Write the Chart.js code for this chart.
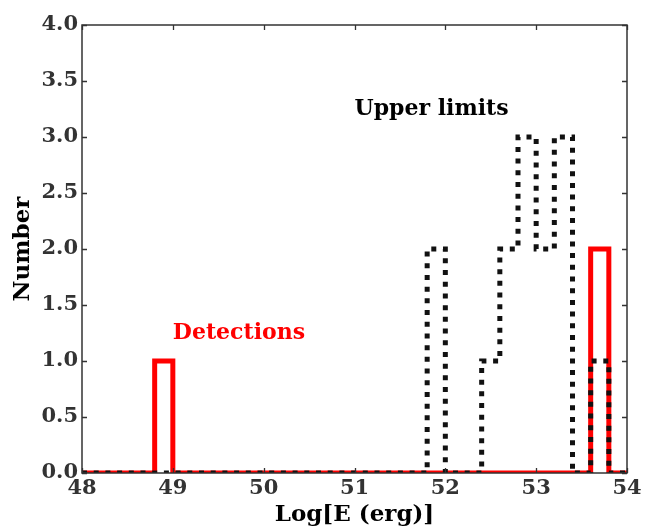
<!DOCTYPE html>
<html>
<head>
<meta charset="utf-8">
<script src="https://cdn.jsdelivr.net/npm/chart.js@4.4.1/dist/chart.umd.min.js"></script>
<style>
html,body{margin:0;padding:0;background:#fff;}
#wrap{width:654px;height:527px;position:relative;}
</style>
</head>
<body>
<div id="wrap"><canvas id="c" width="654" height="527"></canvas></div>
<script>
// Bin left edges (bin width 0.2) for Log[E (erg)]
const binEdges = [48.0,48.2,48.4,48.6,48.8,49.0,49.2,49.4,49.6,49.8,
                  50.0,50.2,50.4,50.6,50.8,51.0,51.2,51.4,51.6,51.8,
                  52.0,52.2,52.4,52.6,52.8,53.0,53.2,53.4,53.6,53.8];
const binEnd = 54.0;
// Counts per bin
const detections = [0,0,0,0,1,0,0,0,0,0,
                    0,0,0,0,0,0,0,0,0,0,
                    0,0,0,0,0,0,0,0,2,0];
const upperLimits = [0,0,0,0,0,0,0,0,0,0,
                     0,0,0,0,0,0,0,0,0,2,
                     0,0,1,2,3,2,3,0,1,0];
const xTicks = [48,49,50,51,52,53,54];
const yTicks = [0,0.5,1,1.5,2,2.5,3,3.5,4];
const annotations = [
  {text:'Upper limits', x:51.0, y:3.2, color:'#000000'},
  {text:'Detections', x:49.0, y:1.2, color:'#ff0000'}
];

function stepPoints(counts){
  const pts = [{x:binEdges[0], y:0}];
  counts.forEach((c,i)=>pts.push({x:binEdges[i], y:c}));
  pts.push({x:binEnd, y:counts[counts.length-1]});
  pts.push({x:binEnd, y:0});
  return pts;
}

const FONT = '"DejaVu Serif", serif';

const framePlugin = {
  id:'frame',
  afterDatasetsDraw(chart){
    const {ctx, chartArea:a, scales:{x, y}} = chart;
    ctx.save();
    ctx.strokeStyle = '#333333';
    ctx.lineWidth = 1.3;
    const L = 5;
    ctx.beginPath();
    xTicks.forEach(v=>{
      const px = Math.round(x.getPixelForValue(v))+0.5;
      ctx.moveTo(px, a.bottom); ctx.lineTo(px, a.bottom-L);
      ctx.moveTo(px, a.top); ctx.lineTo(px, a.top+L);
    });
    yTicks.forEach(v=>{
      const py = Math.round(y.getPixelForValue(v))+0.5;
      ctx.moveTo(a.left, py); ctx.lineTo(a.left+L, py);
      ctx.moveTo(a.right, py); ctx.lineTo(a.right-L, py);
    });
    ctx.stroke();
    ctx.lineWidth = 1.5;
    ctx.strokeRect(a.left, a.top, a.right-a.left, a.bottom-a.top);
    // annotations
    ctx.font = 'bold 22px ' + FONT;
    ctx.textAlign = 'left';
    ctx.textBaseline = 'alphabetic';
    annotations.forEach(t=>{
      ctx.fillStyle = t.color;
      ctx.fillText(t.text, x.getPixelForValue(t.x), y.getPixelForValue(t.y));
    });
    ctx.restore();
  }
};

new Chart(document.getElementById('c'), {
  type:'line',
  data:{
    datasets:[
      {
        label:'Upper limits',
        data: stepPoints(upperLimits),
        stepped:'before',
        borderColor:'#111111',
        borderWidth:5,
        borderDash:[5,6.7],
        borderCapStyle:'butt',
        borderJoinStyle:'miter',
        pointRadius:0,
        fill:false,
        clip:0,
        order:0
      },
      {
        label:'Detections',
        data: stepPoints(detections),
        stepped:'before',
        borderColor:'#ff0000',
        borderWidth:5,
        borderJoinStyle:'miter',
        pointRadius:0,
        fill:false,
        clip:0,
        order:1
      }
    ]
  },
  options:{
    responsive:false,
    animation:false,
    devicePixelRatio:1,
    layout:{padding:{top:25,right:27,left:0,bottom:0}},
    plugins:{legend:{display:false},tooltip:{enabled:false}},
    scales:{
      x:{
        type:'linear', min:48, max:54,
        afterBuildTicks(s){ s.ticks = xTicks.map(v=>({value:v})); },
        afterFit(s){ s.height = 54; },
        grid:{display:false, drawTicks:false},
        border:{display:false},
        ticks:{font:{family:FONT, size:21, weight:'bold'}, color:'#333333', padding:3, maxRotation:0,
               callback:v=>String(v)},
        title:{display:true, text:'Log[E (erg)]', color:'#000000',
               font:{family:FONT, size:23, weight:'bold', lineHeight:1}, padding:{top:0,bottom:0}}
      },
      y:{
        type:'linear', min:0, max:4,
        afterBuildTicks(s){ s.ticks = yTicks.map(v=>({value:v})); },
        afterFit(s){ s.width = 82; },
        grid:{display:false, drawTicks:false},
        border:{display:false},
        ticks:{font:{family:FONT, size:21, weight:'bold'}, color:'#333333', padding:4,
               callback:v=>Number(v).toFixed(1)},
        title:{display:true, text:'Number', color:'#000000',
               font:{family:FONT, size:23, weight:'bold', lineHeight:1}, padding:{top:12,bottom:0}}
      }
    }
  },
  plugins:[framePlugin]
});
</script>
</body>
</html>
